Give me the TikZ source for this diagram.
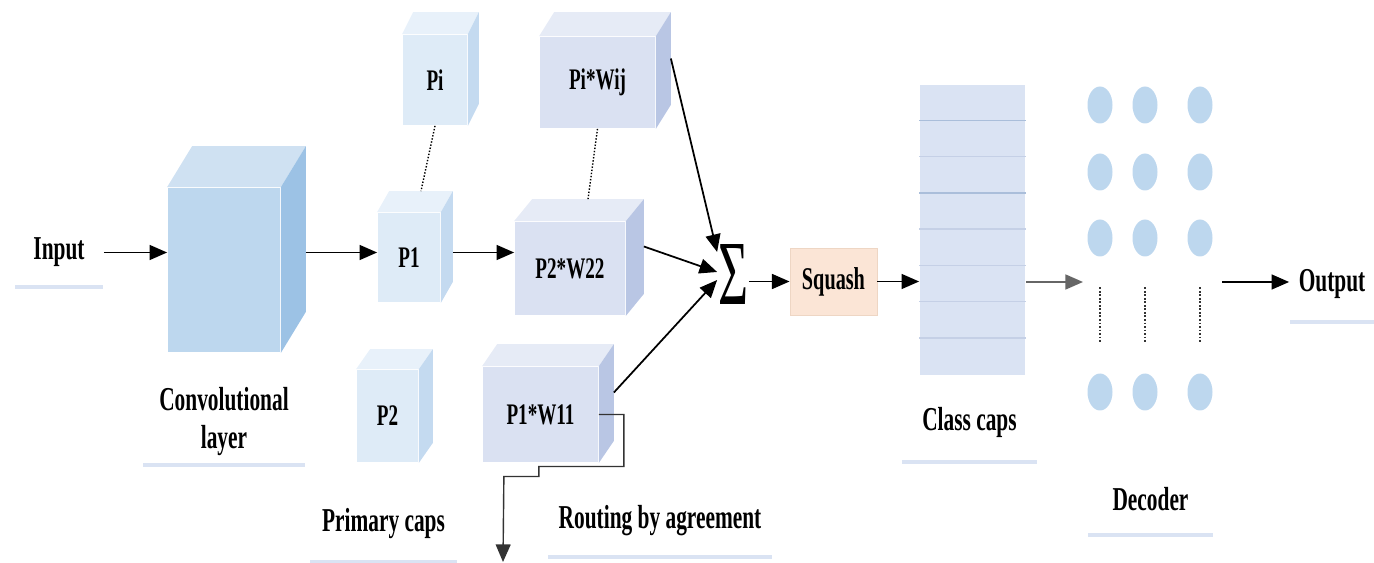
\documentclass[tikz,border=0pt]{standalone}
\usepackage{fontspec}
\setmainfont{Liberation Serif}[FakeStretch=0.64]
\newfontfamily\sumfont{Liberation Serif}
\usepackage{graphicx}
\usepackage{xcolor}
\usetikzlibrary{arrows.meta, shapes.geometric, shadows}

% Farben
\definecolor{convfront}{RGB}{189,215,238}
\definecolor{convtop}{RGB}{207,225,242}
\definecolor{convside}{RGB}{156,194,229}
\definecolor{capfront}{RGB}{222,235,247}
\definecolor{captop}{RGB}{232,241,250}
\definecolor{capside}{RGB}{196,218,240}
\definecolor{wfront}{RGB}{218,225,242}
\definecolor{wtop}{RGB}{230,235,246}
\definecolor{wside}{RGB}{185,198,228}
\definecolor{capsfill}{RGB}{218,227,243}
\definecolor{capsline}{RGB}{197,208,230}
\definecolor{capsdark}{RGB}{170,190,218}
\definecolor{squashfill}{RGB}{251,229,214}
\definecolor{squashedge}{RGB}{238,214,196}
\definecolor{decfill}{RGB}{189,215,238}
\definecolor{tagshade}{RGB}{218,227,243}

% Deckel und Seitenflaeche eines Quaders hinter dem Knoten #1
\newcommand{\cubeback}[4]{%
    \fill[#4top] (#1.north west) -- ++(#2,-#3) -- ([shift={(#2,-#3)}]#1.north east) -- (#1.north east) -- cycle;
    \fill[#4side] (#1.north east) -- ++(#2,-#3) -- ([shift={(#2,-#3)}]#1.south east) -- (#1.south east) -- cycle;
    \coordinate (#1b) at ([shift={(#2,-#3)}]#1.east);
}

\tikzset{
    cube/.style 2 args={minimum width=#1*0.02cm, minimum height=#2*0.02cm, inner sep=0pt,
        font=\fontsize{17}{20}\selectfont\bfseries},
    tag/.style 2 args={fill=white, minimum width=#1*0.02cm, minimum height=#2*0.02cm, inner sep=0pt,
        align=center, font=\fontsize{19}{22}\selectfont\bfseries,
        drop shadow={shadow xshift=0pt, shadow yshift=-0.08cm, fill=tagshade, opacity=1}},
    dot/.style={ellipse, fill=decfill, minimum width=0.5cm, minimum height=0.74cm, inner sep=0pt},
}

\begin{document}
\begin{tikzpicture}[x=0.02cm, y=-0.02cm, >={Triangle[length=10pt, width=8.5pt]}, line width=1pt]

    \useasboundingbox (0,0) rectangle (1374,563);

    % --- Eingang und Faltungsschicht ---
    \node[tag={88}{65}] (input) at (59,252.5) {Input};
    \node[cube={112}{164}, fill=convfront] (conv) at (224,270) {};
    \cubeback{conv}{25}{41}{conv}
    \node[tag={162}{83}] (convlabel) at (224,421.5) {Convolutional\\layer};

    \draw[->] (input.east) -- (input -| conv.west);

    % --- Primary caps ---
    \node[cube={64}{90}, fill=capfront] (pi) at (435,80) {Pi};
    \cubeback{pi}{11}{22}{cap}
    \node[cube={62}{89}, fill=capfront] (p1) at (409,257.5) {P1};
    \cubeback{p1}{12}{21}{cap}
    \node[cube={61}{92}, fill=capfront] (p2) at (387.5,416) {P2};
    \cubeback{p2}{14}{20}{cap}
    \node[tag={147}{73}] (primlabel) at (383.5,523.5) {Primary caps};

    \draw[->] (convb |- input) -- (input -| p1.west);
    \draw[densely dotted, line width=0.8pt] (pi.south) -- ([shift={(12,-21)}]p1.north);

    % --- Routing by agreement ---
    \node[cube={115}{91}, fill=wfront] (wij) at (597.5,82.5) {Pi*Wij};
    \cubeback{wij}{15}{24}{w}
    \node[cube={110}{93}, fill=wfront] (w22) at (570,268.5) {P2*W22};
    \cubeback{w22}{18}{22}{w}
    \node[cube={115}{95}, fill=wfront] (w11) at (540.5,414.5) {P1*W11};
    \cubeback{w11}{15}{22}{w}
    \node[tag={224}{68}] (routlabel) at (660,521) {Routing by agreement};

    \draw[->] (p1b |- input) -- (input -| w22.west);
    \draw[densely dotted, line width=0.8pt] (wij.south) -- ([shift={(18,-22)}]w22.north);

    % Ausgang nach unten
    \coordinate (routeout) at (503,562);
    \draw[->, line width=0.8pt, black!80] (w11.east) -- ++(25,0) -- ++(0,52) -- ++(-85,0) -- ++(0,10) -- ++(-35,0) -- (routeout);

    % --- Summe und Squash ---
    \node[inner sep=0pt] (sum) at (733,275) {\resizebox{0.6cm}{1.2cm}{\sumfont Σ}};
    \draw[->] (wijb) -- ([yshift=0.46cm]sum.west);
    \draw[->] (w22b) -- ([yshift=0.06cm]sum.west);
    \draw[->] (w11b) -- ([yshift=-0.1cm]sum.west);

    \node[fill=squashfill, draw=squashedge, line width=0.5pt, minimum width=87*0.02cm, minimum height=67*0.02cm,
        font=\fontsize{18}{21}\selectfont\bfseries] (squash) at (833.5,281.5) {Squash};
    \draw[->] (sum.east |- squash) -- (squash.west);

    % --- Class caps ---
    \node[fill=capsfill, minimum width=105*0.02cm, minimum height=290*0.02cm, inner sep=0pt] (caps) at (972.5,230) {};
    \foreach \i/\c in {1/capsdark, 2/capsline, 3/capsdark, 4/capsline, 5/capsline, 6/capsline, 7/capsline}
        \draw[\c, line width=0.9pt] ([yshift=-\i*0.725cm]caps.north west) -- ([yshift=-\i*0.725cm]caps.north east);
    \node[tag={135}{75}] (capslabel) at (969.5,422.5) {Class caps};
    \draw[->] (squash.east) -- (squash.east -| caps.west);

    % --- Decoder ---
    \foreach \r/\y in {1/105, 2/172, 3/238, 4/392}
        \foreach \c/\x in {1/1100, 2/1145, 3/1200}
            \node[dot] (d\r\c) at (\x,\y) {};
    \foreach \c in {1,2,3}
        \draw[densely dotted, line width=1pt, black!80] ([yshift=-0.6cm]d3\c.south) -- ([yshift=0.62cm]d4\c.north);
    \node[tag={125}{68}] (declabel) at (1150.5,499) {Decoder};

    \coordinate (decin) at (1083,282);
    \coordinate (decout) at (1222,282);
    \draw[->, black!60] (caps.east |- decin) -- (decin);

    % --- Ausgang ---
    \node[tag={84}{72}] (output) at (1332,284) {Output};
    \draw[->] (decout) -- (decout -| output.west);

\end{tikzpicture}
\end{document}
